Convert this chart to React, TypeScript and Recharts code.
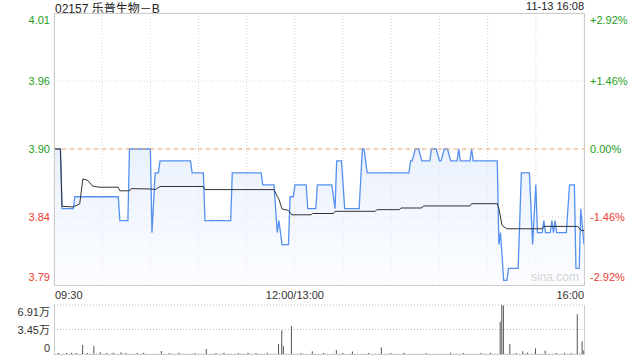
import React from "react";
import {
  ComposedChart,
  Area,
  Line,
  Bar,
  XAxis,
  YAxis,
  CartesianGrid,
  ReferenceLine,
} from "recharts";

const title = "02157 乐普生物－B";
const stamp = "11-13 16:08";
const prevClose = 3.9;
const pctTicks = [-2.92, -1.46, 0, 1.46, 2.92];
const timeTicks = [0, 30, 60, 90, 120, 150, 180, 210, 240, 270, 300, 330];
const timeLabels: Record<number, string> = { 0: "09:30", 150: "12:00/13:00", 330: "16:00" };
const volTicks = [0, 34550, 69100];
const volLabels = ["0", "3.45万", "6.91万"];

// minute index from 09:30 (lunch removed), last price
const priceMinutes = [
  0, 4, 5, 12, 13, 40, 41, 46, 47, 60, 61, 63, 65, 66, 85, 86, 93, 94, 110, 111,
  129, 130, 137, 139, 140, 142, 146, 147, 149, 150, 157, 158, 163, 164, 173, 175, 176, 179, 181, 190,
  192, 193, 195, 221, 222, 223, 225, 227, 229, 234, 235, 238, 240, 241, 243, 245, 247, 251, 252, 253,
  259, 260, 261, 276, 277, 278, 280, 282, 283, 289, 291, 296, 298, 300, 301, 304, 305, 306, 309, 310,
  311, 312, 313, 319, 321, 324, 325, 327, 328, 330,
];
const prices = [
  3.9, 3.9, 3.85, 3.85, 3.86, 3.86, 3.84, 3.84, 3.9, 3.9, 3.83, 3.88, 3.88, 3.89, 3.89, 3.88, 3.88, 3.84, 3.84, 3.88,
  3.88, 3.87, 3.87, 3.83, 3.84, 3.82, 3.82, 3.86, 3.86, 3.87, 3.87, 3.85, 3.85, 3.87, 3.87, 3.85, 3.89, 3.89, 3.85, 3.85,
  3.9, 3.9, 3.88, 3.88, 3.89, 3.89, 3.9, 3.9, 3.89, 3.89, 3.9, 3.9, 3.89, 3.89, 3.9, 3.9, 3.89, 3.89, 3.9, 3.89,
  3.89, 3.9, 3.89, 3.89, 3.82, 3.83, 3.79, 3.79, 3.8, 3.8, 3.88, 3.88, 3.82, 3.87, 3.83, 3.83, 3.84, 3.83, 3.83, 3.84,
  3.83, 3.84, 3.83, 3.83, 3.87, 3.87, 3.8, 3.8, 3.85, 3.82,
];

// average price line
const avgMinutes = [
  0, 4, 5, 12, 16, 18, 21, 24, 28, 40, 41, 47, 48, 61, 63, 66, 93, 94, 137, 139,
  140, 142, 146, 148, 160, 161, 174, 175, 200, 201, 215, 216, 229, 230, 259, 260, 276, 277, 279, 282,
  304, 305, 326, 328, 330,
];
const avgPrices = [
  3.9, 3.9, 3.852, 3.8515, 3.854, 3.875, 3.8737, 3.869, 3.868, 3.868, 3.865, 3.865, 3.8668, 3.8665, 3.866, 3.8686, 3.8686, 3.866, 3.866, 3.8603,
  3.858, 3.8498, 3.8486, 3.8449, 3.8449, 3.846, 3.846, 3.8478, 3.8478, 3.8492, 3.8492, 3.8506, 3.8506, 3.8523, 3.8523, 3.8542, 3.8542, 3.85, 3.836, 3.8332,
  3.8332, 3.8352, 3.8352, 3.832, 3.8316,
];

// volume per minute (shares)
const volMinutes = [
  3, 8, 11, 14, 18, 21, 25, 29, 33, 37, 42, 45, 52, 56, 67, 72, 78, 88, 95, 101,
  106, 115, 121, 126, 133, 140, 142, 143, 148, 154, 161, 168, 176, 180, 186, 196, 204, 210, 218, 232,
  247, 255, 266, 272, 278, 279, 280, 284, 288, 292, 295, 300, 306, 313, 318, 322, 326, 329, 330,
];
const volumes = [
  1500, 1500, 1800, 1500, 12700, 1500, 11300, 2500, 1500, 1600, 2500, 1500, 1500, 1600, 4200, 1500, 1600, 1500, 7000, 1500,
  1600, 1500, 1800, 1500, 1600, 14000, 33000, 11000, 39500, 1500, 4000, 1500, 5500, 1500, 3500, 1500, 9000, 1500, 1600, 1500,
  1600, 1500, 1500, 1600, 45600, 69100, 68500, 14000, 1500, 4000, 1600, 8000, 5000, 1500, 1600, 1500, 56000, 18000, 5000,
];

const GREEN = "#1f9e22";
const RED = "#ec3b32";
const FONT = "Arial, 'Liberation Sans', 'Noto Sans CJK SC', sans-serif";

const priceTicks = pctTicks.map((p) => prevClose * (1 + p / 100));
const minP = priceTicks[0];
const maxP = priceTicks[priceTicks.length - 1];

const allMinutes = Array.from(new Set([...priceMinutes, ...avgMinutes])).sort((a, b) => a - b);
const priceRows = allMinutes.map((m) => {
  const pi = priceMinutes.indexOf(m);
  const ai = avgMinutes.indexOf(m);
  return { m, price: pi >= 0 ? prices[pi] : null, avg: ai >= 0 ? avgPrices[ai] : null };
});
const volRows = volMinutes.map((m, i) => ({ m, v: volumes[i] }));

const shift = (index: number, count: number) => (index === 0 ? -4 : index === count - 1 ? 11 : 4);

const LeftTick = (props: any) => {
  const { x, y, payload, index } = props;
  const v = payload.value;
  const up = v >= prevClose - 1e-6;
  return (
    <text x={x} y={y + shift(index, priceTicks.length)} textAnchor="end" fontSize={11} fontFamily={FONT} fill={up ? GREEN : RED}>
      {v.toFixed(2)}
    </text>
  );
};

const RightTick = (props: any) => {
  const { x, y, payload, index } = props;
  const pct = ((payload.value - prevClose) / prevClose) * 100;
  const up = pct >= -1e-6;
  const label = (pct > 0.001 ? "+" : "") + (Math.abs(pct) < 0.001 ? "0.00" : pct.toFixed(2)) + "%";
  return (
    <text x={x} y={y + shift(index, priceTicks.length)} textAnchor="start" fontSize={11} fontFamily={FONT} fill={up ? GREEN : RED}>
      {label}
    </text>
  );
};

const TimeTick = (props: any) => {
  const { x, y, payload } = props;
  const label = timeLabels[payload.value];
  if (!label) return <g />;
  const anchor = payload.value === 0 ? "start" : payload.value === 330 ? "end" : "middle";
  return (
    <text x={payload.value === 0 ? x + 1 : x} y={y + 6} textAnchor={anchor} fontSize={11} fontFamily={FONT} fill="#333">
      {label}
    </text>
  );
};

const VolTick = (props: any) => {
  const { x, y, index } = props;
  return (
    <text x={x} y={y + (index === 0 ? -2 : index === volTicks.length - 1 ? 11 : 4)} textAnchor="end" fontSize={11} fontFamily={FONT} fill="#333">
      {volLabels[index]}
    </text>
  );
};

export default function App() {
  return (
    <div style={{ position: "absolute", left: 0, top: 0, width: 640, height: 360, background: "#fff", fontFamily: FONT }}>
      <div style={{ position: "absolute", left: 55, top: -1, fontSize: 12, color: "#222", whiteSpace: "nowrap" }}>{title}</div>
      <div style={{ position: "absolute", right: 56, top: 0, fontSize: 11, color: "#222", whiteSpace: "nowrap" }}>{stamp}</div>

      <div style={{ position: "absolute", left: 0, top: 0 }}>
        <ComposedChart width={640} height={305} data={priceRows} margin={{ top: 13, right: 0, bottom: 0, left: 0 }}>
          <defs>
            <linearGradient id="pfill" x1="0" y1="0" x2="0" y2="1">
              <stop offset="0%" stopColor="#dde8fb" stopOpacity={1} />
              <stop offset="100%" stopColor="#f9fbff" stopOpacity={1} />
            </linearGradient>
          </defs>
          <CartesianGrid stroke="#d6d6d6" strokeDasharray="1 2" yAxisId="p" />
          <XAxis
            dataKey="m"
            type="number"
            domain={[0, 330]}
            ticks={timeTicks}
            interval={0}
            axisLine={false}
            tickLine={false}
            height={20}
            tick={<TimeTick />}
          />
          <YAxis
            yAxisId="p"
            type="number"
            domain={[minP, maxP]}
            ticks={priceTicks}
            interval={0}
            width={54}
            axisLine={false}
            tickLine={false}
            tickSize={0}
            tickMargin={4}
            tick={<LeftTick />}
          />
          <YAxis
            yAxisId="r"
            orientation="right"
            type="number"
            domain={[minP, maxP]}
            ticks={priceTicks}
            interval={0}
            width={56}
            axisLine={false}
            tickLine={false}
            tickSize={0}
            tickMargin={6}
            tick={<RightTick />}
          />
          <ReferenceLine yAxisId="p" y={prevClose} stroke="#f2a66a" strokeDasharray="4 4" />
          <Area
            yAxisId="p"
            type="linear"
            dataKey="price"
            stroke="#5590f0"
            strokeWidth={1.3}
            fill="url(#pfill)"
            connectNulls
            dot={false}
            activeDot={false}
            isAnimationActive={false}
          />
          <Line
            yAxisId="r"
            type="linear"
            dataKey="avg"
            stroke="#333"
            strokeWidth={1}
            connectNulls
            dot={false}
            activeDot={false}
            isAnimationActive={false}
          />
        </ComposedChart>
      </div>
      <div style={{ position: "absolute", left: 54, top: 13, width: 531, height: 273, border: "1px solid #cccccc", boxSizing: "border-box", pointerEvents: "none" }} />
      <div style={{ position: "absolute", left: 531, top: 270, fontSize: 12, color: "#d4d4d4", whiteSpace: "nowrap" }}>sina.com</div>

      <div style={{ position: "absolute", left: 0, top: 295 }}>
        <ComposedChart width={640} height={62} data={volRows} margin={{ top: 10, right: 56, bottom: 3, left: 0 }}>
          <CartesianGrid stroke="#bbbbbb" strokeDasharray="1 2" vertical={false} />
          <XAxis dataKey="m" type="number" domain={[0, 330]} hide />
          <YAxis
            type="number"
            domain={[0, 69100]}
            ticks={volTicks}
            interval={0}
            width={54}
            axisLine={false}
            tickLine={false}
            tickSize={0}
            tickMargin={4}
            tick={<VolTick />}
          />
          <Bar dataKey="v" fill="#555" barSize={1} isAnimationActive={false} />
        </ComposedChart>
      </div>
      <div style={{ position: "absolute", left: 54, top: 305, width: 531, height: 50, borderLeft: "1px solid #cccccc", borderRight: "1px solid #cccccc", borderBottom: "1px solid #cccccc", boxSizing: "border-box", pointerEvents: "none" }} />
    </div>
  );
}
